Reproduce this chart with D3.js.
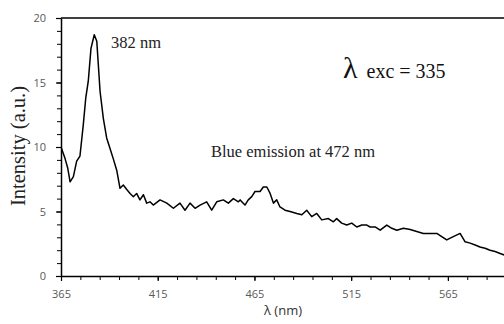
<!DOCTYPE html>
<html>
<head>
<meta charset="utf-8">
<script src="https://cdn.jsdelivr.net/npm/d3@7"></script>
<style>
  body { margin: 0; background: #fff; }
  svg { display: block; }
</style>
</head>
<body>
<div id="chart"></div>
<script>
// emission spectrum
var wavelength = [365, 367.1, 368.5, 369.7, 371.4, 373.1, 374.8, 376.5, 377.8, 379.1, 380.5, 382.2, 383.5, 385.2, 386.9, 388.6, 390.3, 392, 393.8,
  395.5, 397.2, 399.0, 400.7, 402.4, 404.1, 405.8, 407.6, 409.3, 411.0, 412.7, 416.2, 419.7, 423.1, 426.5, 429.1, 431.7, 434.3, 436.9,
  440.3, 442.9, 445.5, 448.9, 451.5, 454.1, 456.7, 457.6, 460.1, 461.8, 463.6, 465.3, 467.9, 469.6, 471.4, 473.1, 474.8, 476.5, 478.2,
  480.8, 483.4, 486.9, 489.5, 492.0, 494.6, 497.2, 499.8, 503.2, 505.8, 507.5, 510.1, 512.7, 515.3, 517.9, 520.5, 523.1, 524.8, 527.4,
  530.0, 533.4, 536.0, 538.6, 542.0, 545.5, 548.9, 552.3, 555.8, 559.3, 561.8, 564.4, 567.8, 571.3, 573.9, 576.5, 579.1, 581.6, 584.2,
  586.8, 589.4, 592.0, 594.6];
var intensity = [10.0, 9.1, 8.35, 7.3, 7.7, 8.9, 9.3, 11.7, 13.8, 15.1, 17.65, 18.7, 18.2, 14.3, 12.2, 10.7, 9.9, 9.1, 8.2,
  6.8, 7.05, 6.7, 6.4, 6.15, 6.4, 5.9, 6.3, 5.65, 5.75, 5.5, 5.9, 5.65, 5.25, 5.65, 5.1, 5.65, 5.25, 5.5,
  5.75, 5.1, 5.75, 5.9, 5.65, 6.0, 5.75, 5.9, 5.5, 5.9, 6.15, 6.55, 6.55, 6.9, 6.9, 6.4, 5.65, 5.9, 5.35,
  5.1, 5.0, 4.85, 4.75, 5.1, 4.6, 4.85, 4.35, 4.45, 4.2, 4.45, 4.1, 3.95, 4.1, 3.8, 3.95, 3.95, 3.8, 3.8,
  3.55, 3.95, 3.7, 3.55, 3.7, 3.6, 3.45, 3.3, 3.3, 3.3, 3.05, 2.8, 3.05, 3.3, 2.65, 2.55, 2.4, 2.25, 2.15,
  2.0, 1.9, 1.75, 1.6];
var xTicks = [365, 415, 465, 515, 565];
var yTicks = [0, 5, 10, 15, 20];

var W = 504, H = 324;
var margin = {top: 18, right: 0, bottom: 48, left: 61};

var svg = d3.select("#chart").append("svg")
    .attr("width", W)
    .attr("height", H);

var x = d3.scaleLinear().domain([365, 594]).range([margin.left, W - margin.right]);
var y = d3.scaleLinear().domain([0, 20]).range([H - margin.bottom, margin.top]);

svg.append("clipPath").attr("id", "clip")
  .append("rect")
    .attr("x", margin.left).attr("y", margin.top)
    .attr("width", W - margin.left - margin.right)
    .attr("height", H - margin.top - margin.bottom);

// minor ticks
svg.append("g")
    .attr("transform", "translate(0," + y(0) + ")")
    .call(d3.axisBottom(x).tickValues(d3.range(365, 595, 10)).tickSize(4).tickFormat(""))
    .call(function(g) { g.select(".domain").remove(); });
svg.append("g")
    .attr("transform", "translate(" + x(365) + ",0)")
    .call(d3.axisLeft(y).tickValues(d3.range(0, 21, 1)).tickSize(4).tickFormat(""))
    .call(function(g) { g.select(".domain").remove(); });

// major ticks + labels
var xAxis = svg.append("g")
    .attr("transform", "translate(0," + y(0) + ")")
    .call(d3.axisBottom(x).tickValues(xTicks).tickSize(5).tickSizeOuter(0).tickPadding(9));
var yAxis = svg.append("g")
    .attr("transform", "translate(" + x(365) + ",0)")
    .call(d3.axisLeft(y).tickValues(yTicks).tickSize(5).tickSizeOuter(0).tickPadding(10));

[xAxis, yAxis].forEach(function(g) {
  g.select(".domain").attr("stroke", "#000").attr("stroke-width", 1.5);
  g.selectAll(".tick line").attr("stroke", "#000").attr("stroke-width", 1.2);
  g.selectAll(".tick text")
    .attr("fill", "#595959")
    .style("font-family", "'Open Sans', sans-serif")
    .style("font-size", "11px");
});
svg.selectAll("g .tick line").attr("stroke", "#000");

// top frame line
svg.append("line")
    .attr("x1", x(365)).attr("x2", W)
    .attr("y1", y(20)).attr("y2", y(20))
    .attr("stroke", "#000").attr("stroke-width", 1.5);

var line = d3.line()
    .x(function(d, i) { return x(wavelength[i]); })
    .y(function(d) { return y(d); });

svg.append("path")
    .datum(intensity)
    .attr("clip-path", "url(#clip)")
    .attr("fill", "none")
    .attr("stroke", "#000")
    .attr("stroke-width", 1.5)
    .attr("stroke-linejoin", "round")
    .attr("d", line);

var serif = "'Liberation Serif', 'Times New Roman', serif";

// axis titles
svg.append("text")
    .attr("transform", "translate(25,146) rotate(-90)")
    .attr("text-anchor", "middle")
    .style("font-family", serif)
    .style("font-size", "20.5px")
    .attr("fill", "#222")
    .text("Intensity (a.u.)");

svg.append("text")
    .attr("x", 283).attr("y", 315)
    .attr("text-anchor", "middle")
    .style("font-family", "'Open Sans', sans-serif")
    .style("font-size", "13px")
    .attr("fill", "#333")
    .text("λ (nm)");

// annotations
svg.append("text")
    .attr("x", 111).attr("y", 48)
    .style("font-family", serif).style("font-size", "16.5px")
    .attr("fill", "#222")
    .text("382 nm");

svg.append("text")
    .attr("x", 211).attr("y", 157)
    .style("font-family", serif).style("font-size", "16.5px")
    .attr("fill", "#222")
    .text("Blue emission at 472 nm");

var lam = svg.append("text")
    .attr("x", 343).attr("y", 78)
    .style("font-family", serif)
    .attr("fill", "#111");
lam.append("tspan").style("font-size", "30px").text("λ");
lam.append("tspan").attr("dx", 9).style("font-size", "20px").text("exc = 335");
</script>
</body>
</html>
